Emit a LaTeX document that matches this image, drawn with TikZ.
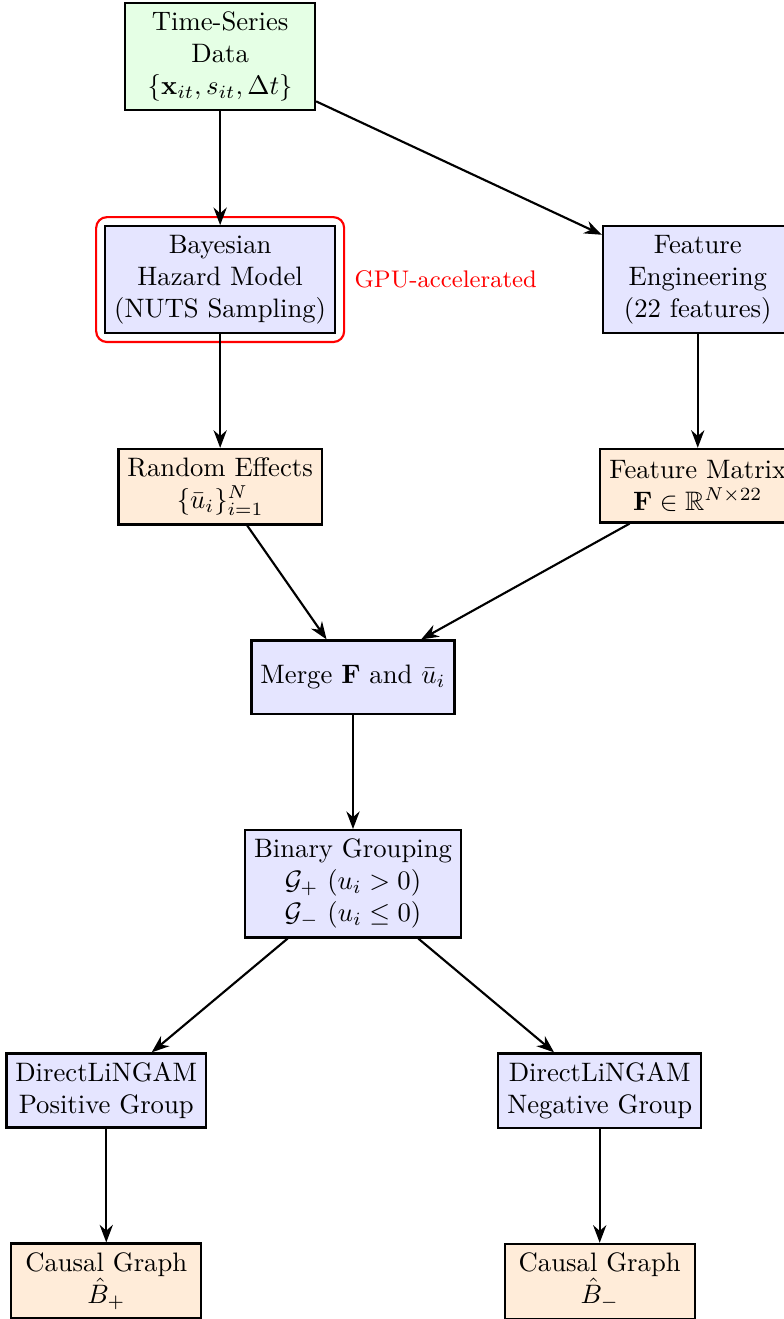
\documentclass[tikz,border=0pt]{standalone}
\usepackage{amsmath,amssymb}
\usetikzlibrary{arrows.meta, fit, positioning}

\begin{document}
\begin{tikzpicture}[>=Stealth, node distance=1.5cm,
    box/.style={draw, thick, rectangle, align=center, minimum width=2.5cm, minimum height=0.97cm},
    datain/.style={box, fill=green!10},
    proc/.style={box, fill=blue!10},
    result/.style={box, fill=orange!15},
    flow/.style={->, thick}]
  \useasboundingbox (-2.90,0.745) rectangle (7.42,-16.63);

  % input and the two branches
  \node[datain] (data) at (0,0) {Time-Series\\Data\\$\{\mathbf{x}_{it}, s_{it}, \Delta t\}$};
  \node[proc, below=of data] (hazard) {Bayesian\\Hazard Model\\(NUTS Sampling)};
  \node[proc, right=3.5cm of hazard] (feateng) {Feature\\Engineering\\(22 features)};
  \node[result, below=of hazard] (effects) {Random Effects\\$\{\bar{u}_i\}_{i=1}^{N}$};
  \node[result, below=of feateng] (featmat) {Feature Matrix\\$\mathbf{F} \in \mathbb{R}^{N \times 22}$};

  % GPU frame
  \node[draw=red, thick, rounded corners=4pt, inner sep=3pt, fit=(hazard)] (gpu) {};
  \node[right, text=red, font=\small] (gpulabel) at (gpu.east) {GPU-accelerated};

  % merge and grouping
  \node[proc, below=of effects, xshift=1.75cm] (merge) {Merge $\mathbf{F}$ and $\bar{u}_i$};
  \node[proc, below=of merge] (group) {Binary Grouping\\$\mathcal{G}_{+}$ $(u_i > 0)$\\$\mathcal{G}_{-}$ $(u_i \leq 0)$};

  % causal discovery per group
  \node[proc, below=of group, xshift=-3.25cm] (lingampos) {DirectLiNGAM\\Positive Group};
  \node[proc, below=of group, xshift=3.25cm] (lingamneg) {DirectLiNGAM\\Negative Group};
  \node[result, below=of lingampos] (graphpos) {Causal Graph\\$\hat{B}_{+}$};
  \node[result, below=of lingamneg] (graphneg) {Causal Graph\\$\hat{B}_{-}$};

  \draw[flow] (data) -- (hazard);
  \draw[flow] (data) -- (feateng);
  \draw[flow] (hazard) -- (effects);
  \draw[flow] (feateng) -- (featmat);
  \draw[flow] (effects) -- (merge);
  \draw[flow] (featmat) -- (merge);
  \draw[flow] (merge) -- (group);
  \draw[flow] (group) -- (lingampos);
  \draw[flow] (group) -- (lingamneg);
  \draw[flow] (lingampos) -- (graphpos);
  \draw[flow] (lingamneg) -- (graphneg);
\end{tikzpicture}
\end{document}
